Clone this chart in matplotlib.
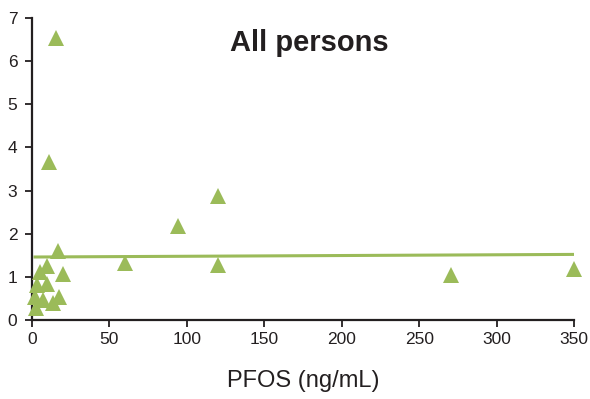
#!/usr/bin/env python3

import matplotlib
matplotlib.use("Agg")
import matplotlib.pyplot as plt

plt.rcParams["font.family"] = ["Liberation Sans", "DejaVu Sans"]

# PFOS (ng/mL) vs ratio, all persons
pfos = [15.3, 11.2, 17, 10, 5, 20, 3, 10, 2, 7.3, 13.8, 17.6, 2.6,
        60, 94.5, 120.3, 120, 270.5, 350]
ratio = [6.54, 3.66, 1.61, 1.24, 1.12, 1.07, 0.81, 0.84, 0.54, 0.46, 0.39,
         0.54, 0.28, 1.32, 2.17, 2.88, 1.28, 1.04, 1.18]

# fitted trend line endpoints
trend_x = [2, 350]
trend_y = [1.46, 1.52]

GREEN = "#9BBB59"
INK = "#231F20"

fig = plt.figure(figsize=(5.9, 3.99), dpi=100)
ax = fig.add_axes([0.0542, 0.198, 0.9187, 0.757])

ax.plot(trend_x, trend_y, color=GREEN, lw=2.2, zorder=2)
ax.plot(pfos, ratio, linestyle="none", marker="^", ms=11,
        color=GREEN, markeredgewidth=0, zorder=3, clip_on=False)

ax.set_xlim(0, 350)
ax.set_ylim(0, 7)
ax.set_xticks(range(0, 351, 50))
ax.set_yticks(range(0, 8))
for side in ("top", "right"):
    ax.spines[side].set_visible(False)
for side in ("left", "bottom"):
    ax.spines[side].set_linewidth(1.6)
    ax.spines[side].set_color(INK)
ax.tick_params(direction="out", length=5, width=1.3, labelsize=12.5,
               colors=INK)
ax.tick_params(axis="y", pad=5.5)
ax.set_xlabel("PFOS (ng/mL)", fontsize=17, labelpad=17, color=INK)
ax.text(0.511, 0.891, "All persons", transform=ax.transAxes, ha="center",
        va="baseline", fontsize=21, fontweight="bold", color=INK)

fig.savefig("out.png", dpi=100)
